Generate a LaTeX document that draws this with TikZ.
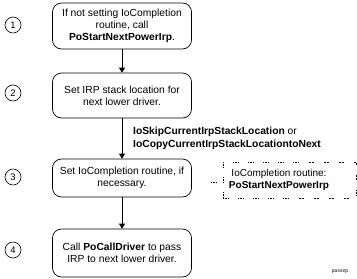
\documentclass[tikz,border=0pt]{standalone}
\usepackage{fontspec}
\setmainfont{Liberation Sans}
\usetikzlibrary{arrows.meta}
\begin{document}
\begin{tikzpicture}[x=1pt,y=-1pt,
  stepbox/.style={draw,rounded corners=9pt,minimum width=139pt,align=center,
    line width=0.7pt,inner sep=2pt,font=\fontsize{10.3}{12}\selectfont},
  num/.style={draw,circle,minimum size=16pt,inner sep=0pt,line width=0.6pt,
    font=\fontsize{9.5}{10}\selectfont},
  flow/.style={-{Triangle[length=5pt,width=6pt]},line width=0.7pt},
  lbl/.style={font=\fontsize{10.3}{13}\selectfont\bfseries,align=left,inner sep=0pt},
  dots/.style={line width=0.45pt,
    dash pattern=on 0.6pt off 0.9pt on 0.6pt off 0.9pt on 0.6pt off 0.9pt on 0.6pt off 10pt}]
\useasboundingbox (0,0) rectangle (357,279);

% step boxes
\node[stepbox,minimum height=46pt] (b1) at (122,26)
  {If not setting IoCompletion\\routine, call\\\textbf{PoStartNextPowerIrp}.};
\node[stepbox,minimum height=45pt] (b2) at (122,95.5)
  {Set IRP stack location for\\next lower driver.};
\node[stepbox,minimum height=38pt] (b3) at (122,178)
  {Set IoCompletion routine, if\\necessary.};
\node[stepbox,minimum height=48pt] (b4) at (122,253)
  {Call \textbf{PoCallDriver} to pass\\IRP to next lower driver.};

% step numbers
\node[num] (n1) at (13,25) {1};
\node[num] (n2) at (13,93) {2};
\node[num] (n3) at (13,177) {3};
\node[num] (n4) at (13,250) {4};

% flow arrows
\draw[flow] (b1) -- (b2);
\draw[flow] (b2) -- (b3);
\draw[flow] (b3) -- (b4);

\node[lbl,anchor=west] (skip) at (133,138)
  {IoSkipCurrentIrpStackLocation \mdseries or\\IoCopyCurrentIrpStackLocationtoNext};

% completion routine note
\node[draw,dots,minimum width=133pt,minimum height=36pt,inner sep=0pt] (note) at (289.5,180) {};
\node[align=center,inner sep=0pt,font=\fontsize{10}{12.5}\selectfont] (notetext) at (279,180)
  {IoCompletion routine:\\\textbf{PoStartNextPowerIrp}};
\coordinate (stub) at (211,182);
\draw[dots] (stub) -- (stub -| note.west);

\node[font=\fontsize{5}{6}\selectfont,inner sep=0pt] (tag) at (340,271) {passirp};
\end{tikzpicture}
\end{document}
